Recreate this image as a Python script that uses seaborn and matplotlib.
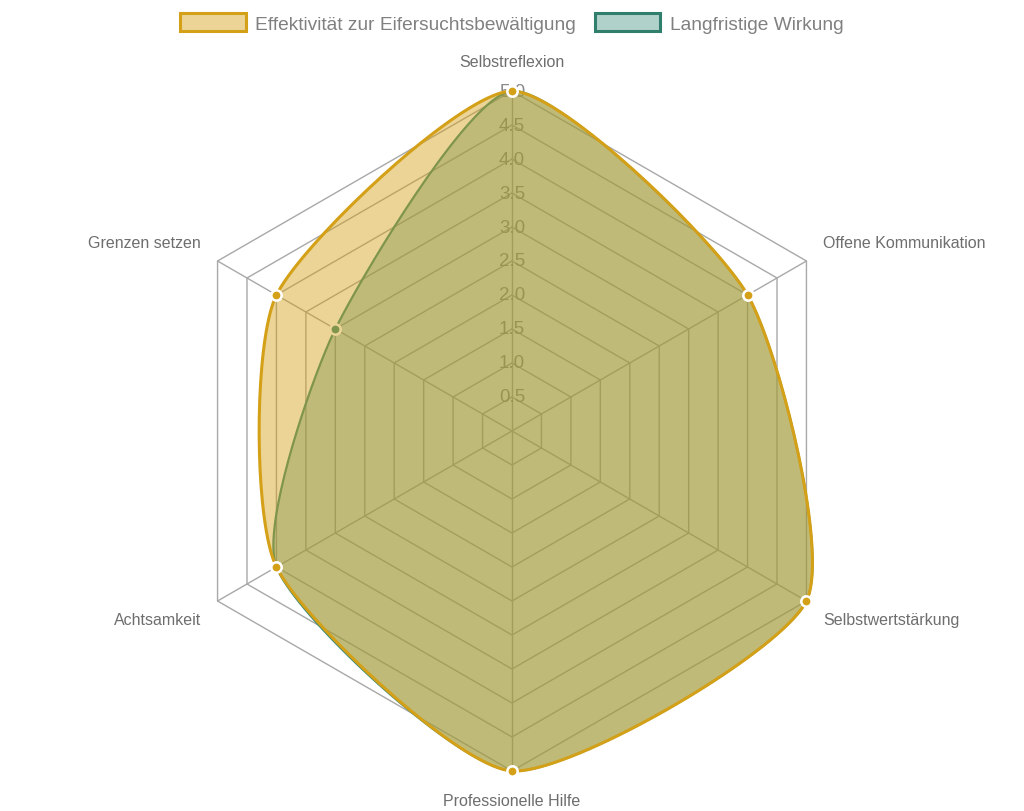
import numpy as np
import seaborn as sns
import matplotlib.pyplot as plt
from matplotlib.patches import Patch

categories = ['Selbstreflexion', 'Offene Kommunikation', 'Selbstwertstärkung',
              'Professionelle Hilfe', 'Achtsamkeit', 'Grenzen setzen']
effektivitaet = [5, 4, 5, 5, 4, 4]
langfristig = [5, 4, 5, 5, 4, 3]
series_names = ['Effektivität zur Eifersuchtsbewältigung', 'Langfristige Wirkung']
tick_values = [0.5, 1.0, 1.5, 2.0, 2.5, 3.0, 3.5, 4.0, 4.5, 5.0]

gold = '#D4A017'
teal = '#3A8C78'
grid_col = '#a8a8a8'
text_col = '#6e6e6e'

sns.set_theme(style='white')
plt.rcParams['font.family'] = ['Liberation Sans', 'DejaVu Sans']

n = len(categories)
# clockwise from the top, like chart.js radar
angles = np.pi / 2 - np.arange(n) * 2 * np.pi / n


def to_xy(vals):
    vals = np.asarray(vals, dtype=float)
    return vals * np.cos(angles), vals * np.sin(angles)


def smooth(vals, tension=0.21, steps=40):
    # chart.js style spline through the closed polygon
    x, y = to_xy(vals)
    pts = np.column_stack([x, y])
    cps_prev, cps_next = [], []
    for i in range(n):
        p0, p1, p2 = pts[i - 1], pts[i], pts[(i + 1) % n]
        d01 = np.linalg.norm(p1 - p0)
        d12 = np.linalg.norm(p2 - p1)
        s01 = d01 / (d01 + d12)
        s12 = d12 / (d01 + d12)
        cps_prev.append(p1 - tension * s01 * (p2 - p0))
        cps_next.append(p1 + tension * s12 * (p2 - p0))
    t = np.linspace(0, 1, steps)[:, None]
    out = []
    for i in range(n):
        j = (i + 1) % n
        a, b, c, d = pts[i], cps_next[i], cps_prev[j], pts[j]
        seg = ((1 - t) ** 3) * a + 3 * ((1 - t) ** 2) * t * b + 3 * (1 - t) * t ** 2 * c + t ** 3 * d
        out.append(seg)
    out = np.vstack(out)
    return out[:, 0], out[:, 1]


fig = plt.figure(figsize=(10.24, 8.12), dpi=100)
ax = fig.add_axes([0, 0, 1, 1])
px = 68.0  # pixels per unit
ax.set_xlim(-512 / px, 512 / px)
ax.set_ylim(-380 / px, 432 / px)
ax.set_aspect('equal')
ax.axis('off')

# hexagonal grid
for r in tick_values:
    gx, gy = to_xy([r] * n)
    ax.plot(np.append(gx, gx[0]), np.append(gy, gy[0]), color=grid_col, lw=1, zorder=1)
ox, oy = to_xy([5] * n)
for i in range(n):
    ax.plot([0, ox[i]], [0, oy[i]], color=grid_col, lw=1, zorder=1)

for r in tick_values:
    ax.text(0, r, f'{r:.1f}', ha='center', va='center', fontsize=13.5,
            color='#8a8a8a', zorder=1.5)

# series: second dataset underneath, first on top
for vals, col, alpha, lw, z in [(langfristig, teal, 0.4, 1.6, 2),
                                (effektivitaet, gold, 0.45, 2.2, 5)]:
    sx, sy = smooth(vals)
    ax.fill(sx, sy, color=col, alpha=alpha, lw=0, zorder=z)
    ax.plot(sx, sy, color=col, lw=lw, zorder=z + 0.5)
    px_, py_ = to_xy(vals)
    sns.scatterplot(x=px_, y=py_, ax=ax, color=col, s=55, edgecolor='white',
                    linewidth=1.8, zorder=z + 1, legend=False)

# point labels
rl = 362 / px
for i, lab in enumerate(categories):
    c, s = np.cos(angles[i]), np.sin(angles[i])
    if abs(c) < 0.01:
        ha, lx = 'center', 0
    else:
        ha = 'left' if c > 0 else 'right'
        lx = np.sign(c) * 311 / px
    va = 'bottom' if s > 0.01 else 'top'
    ax.text(lx, rl * s, lab, ha=ha, va=va, fontsize=11.5, color=text_col)

handles = [Patch(facecolor=(0.83, 0.63, 0.09, 0.45), edgecolor=gold, lw=2.2),
           Patch(facecolor=(0.23, 0.55, 0.47, 0.4), edgecolor='#2F7F6C', lw=2.2)]
fig.legend(handles, series_names, loc='center', bbox_to_anchor=(0.5, 1 - 24 / 812),
           ncol=2, frameon=False, fontsize=13.8, handlelength=3.4, handleheight=1.0,
           handletextpad=0.5, columnspacing=1.0, labelcolor='#808080')

plt.savefig('out.png', dpi=100)
